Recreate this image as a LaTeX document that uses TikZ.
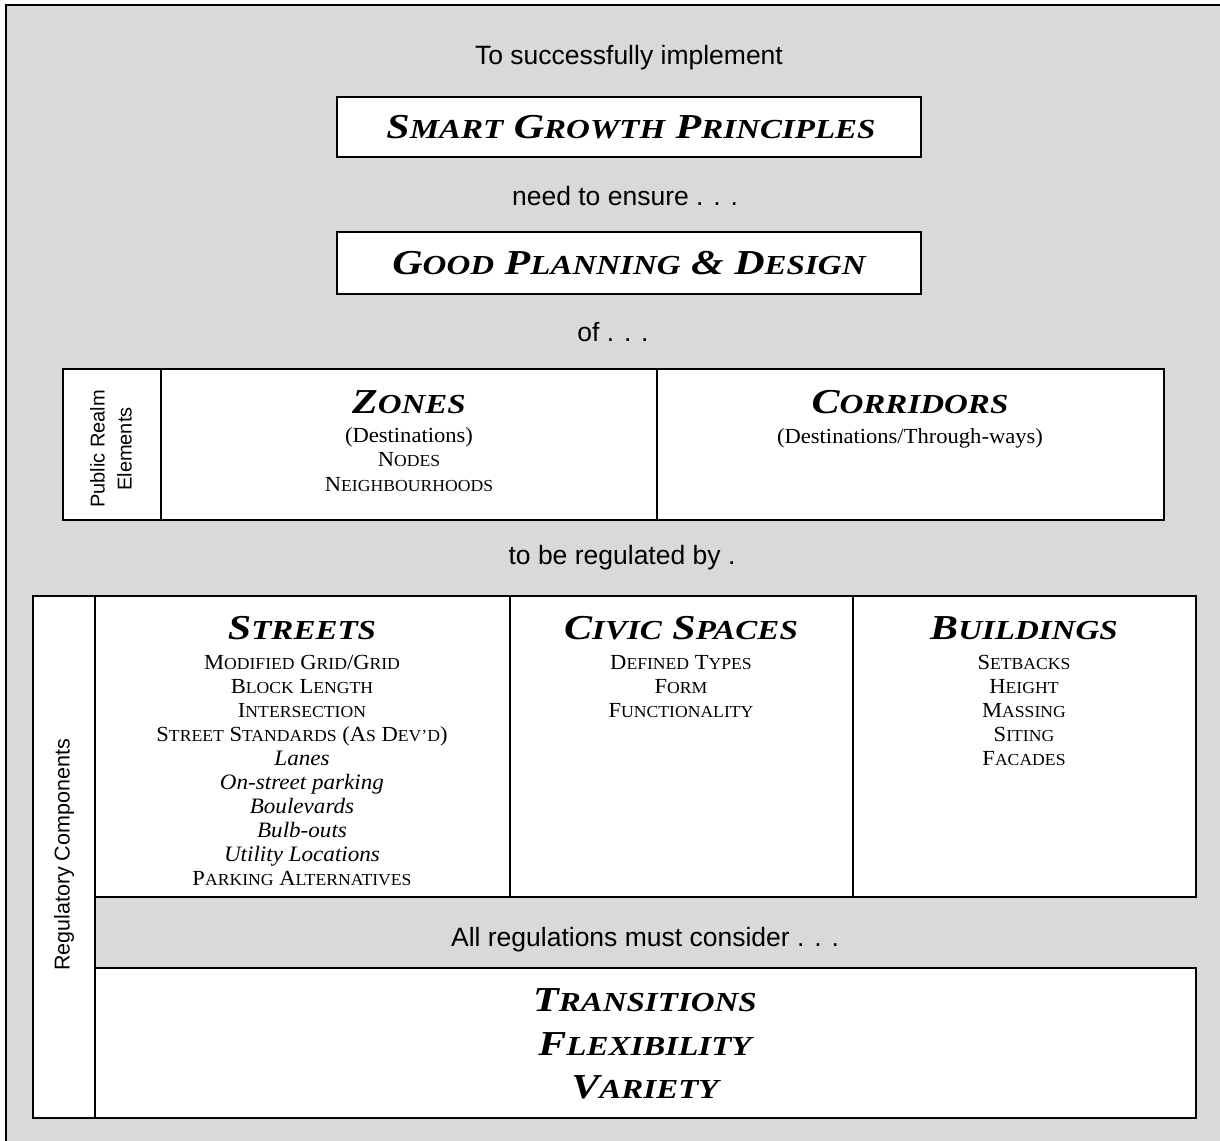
\documentclass[tikz,border=0pt]{standalone}
\usepackage{fontspec}
\setmainfont{Liberation Serif}
\newfontfamily\bodyfont{Liberation Serif}[FakeStretch=1.05]
\newfontfamily\headfont{Liberation Serif}[FakeStretch=1.2]
\newfontfamily\arial{Liberation Sans}
\definecolor{bggray}{HTML}{D9D9D9}
\newcommand\HD[2]{{\fontsize{35}{40}\selectfont#1}{\fontsize{27.5}{30}\selectfont#2}}
\newcommand\SM[2]{{\fontsize{21.5}{24}\selectfont#1}{\fontsize{16.8}{20}\selectfont#2}}
\tikzset{
  box/.style={draw=black, line width=1.8pt, fill=white},
  sans/.style={font=\arial\fontsize{26.5}{30}\selectfont, inner sep=0pt, anchor=base},
  sidelabel/.style={font=\arial\fontsize{20}{27}\selectfont, inner sep=0pt, align=center, rotate=90},
  head/.style={font=\headfont\bfseries\itshape\fontsize{35}{40}\selectfont, inner sep=0pt, anchor=base},
  item/.style={font=\bodyfont\fontsize{21.5}{24}\selectfont, inner sep=0pt, anchor=base},
  itemit/.style={item, font=\bodyfont\itshape\fontsize{22}{24}\selectfont},
}
\begin{document}
\begin{tikzpicture}[x=1pt,y=-1pt]
\useasboundingbox (0,0) rectangle (1220,1140);
% background frame
\path[fill=bggray, draw=black, line width=2.5pt] (6,5) rectangle (1230,1150);

% top statements
\node[sans] (t1) at (629,64) {To successfully implement};
\node[box, minimum width=584pt, minimum height=60pt, inner sep=0pt] (sgp) at (629,127) {};
\node[head] (sgpt) at (631,138.5) {\HD{S}{MART} \HD{G}{ROWTH} \HD{P}{RINCIPLES}};
\node[sans] (t2) at (625,205) {need to ensure . . .};
\node[box, minimum width=584pt, minimum height=62pt, inner sep=0pt] (gpd) at (629,263) {};
\node[head] (gpdt) at (629,274.5) {\HD{G}{OOD} \HD{P}{LANNING} \HD{\&}{} \HD{D}{ESIGN}};
\node[sans] (t3) at (613,341) {of . . .};

% public realm row
\path[box] (63,369) rectangle (1164,520);
\draw[line width=1.8pt] (161,369) -- (161,520);
\draw[line width=1.8pt] (657,369) -- (657,520);
\node[sidelabel] (pre) at (111,449) {Public Realm\\Elements};
\node[head] (zones) at (409,413) {\HD{Z}{ONES}};
\node[item] (z1) at (409,442) {(Destinations)};
\node[item] (z2) at (409,466.5) {\SM{N}{ODES}};
\node[item] (z3) at (409,491) {\SM{N}{EIGHBOURHOODS}};
\node[head] (corr) at (910,413) {\HD{C}{ORRIDORS}};
\node[item] (c1) at (910,443) {(Destinations/Through-ways)};

\node[sans] (t4) at (622,564) {to be regulated by .};

% regulatory components
\path[box] (33,596) rectangle (95,1118);
\path[box] (95,596) rectangle (1196,897);
\draw[line width=1.8pt] (510,596) -- (510,897);
\draw[line width=1.8pt] (853,596) -- (853,897);
\path[box] (95,968) rectangle (1196,1118);
\node[sidelabel, font=\arial\fontsize{21.5}{25}\selectfont] (rc) at (64,855) {Regulatory Components};

\node[head] (streets) at (302,639) {\HD{S}{TREETS}};
\node[item] (s1) at (302,669) {\SM{M}{ODIFIED} \SM{G}{RID}/\SM{G}{RID}};
\node[item] (s2) at (302,693) {\SM{B}{LOCK} \SM{L}{ENGTH}};
\node[item] (s3) at (302,717) {\SM{I}{NTERSECTION}};
\node[item] (s4) at (302,741) {\SM{S}{TREET} \SM{S}{TANDARDS} (\SM{A}{S} \SM{D}{EV’D})};
\node[itemit] (s5) at (302,765) {Lanes};
\node[itemit] (s6) at (302,789) {On-street parking};
\node[itemit] (s7) at (302,813) {Boulevards};
\node[itemit] (s8) at (302,837) {Bulb-outs};
\node[itemit] (s9) at (302,861) {Utility Locations};
\node[item] (s10) at (302,885) {\SM{P}{ARKING} \SM{A}{LTERNATIVES}};

\node[head] (civic) at (681,639) {\HD{C}{IVIC} \HD{S}{PACES}};
\node[item] (v1) at (681,669) {\SM{D}{EFINED} \SM{T}{YPES}};
\node[item] (v2) at (681,693) {\SM{F}{ORM}};
\node[item] (v3) at (681,717) {\SM{F}{UNCTIONALITY}};

\node[head] (bldg) at (1024,639) {\HD{B}{UILDINGS}};
\node[item] (b1) at (1024,669) {\SM{S}{ETBACKS}};
\node[item] (b2) at (1024,693) {\SM{H}{EIGHT}};
\node[item] (b3) at (1024,717) {\SM{M}{ASSING}};
\node[item] (b4) at (1024,741) {\SM{S}{ITING}};
\node[item] (b5) at (1024,765) {\SM{F}{ACADES}};

\node[sans] (t5) at (645,946) {All regulations must consider . . .};

\node[head] (tr) at (645,1011.5) {\HD{T}{RANSITIONS}};
\node[head] (fl) at (645,1055.5) {\HD{F}{LEXIBILITY}};
\node[head] (va) at (645,1098.5) {\HD{V}{ARIETY}};
\end{tikzpicture}
\end{document}
